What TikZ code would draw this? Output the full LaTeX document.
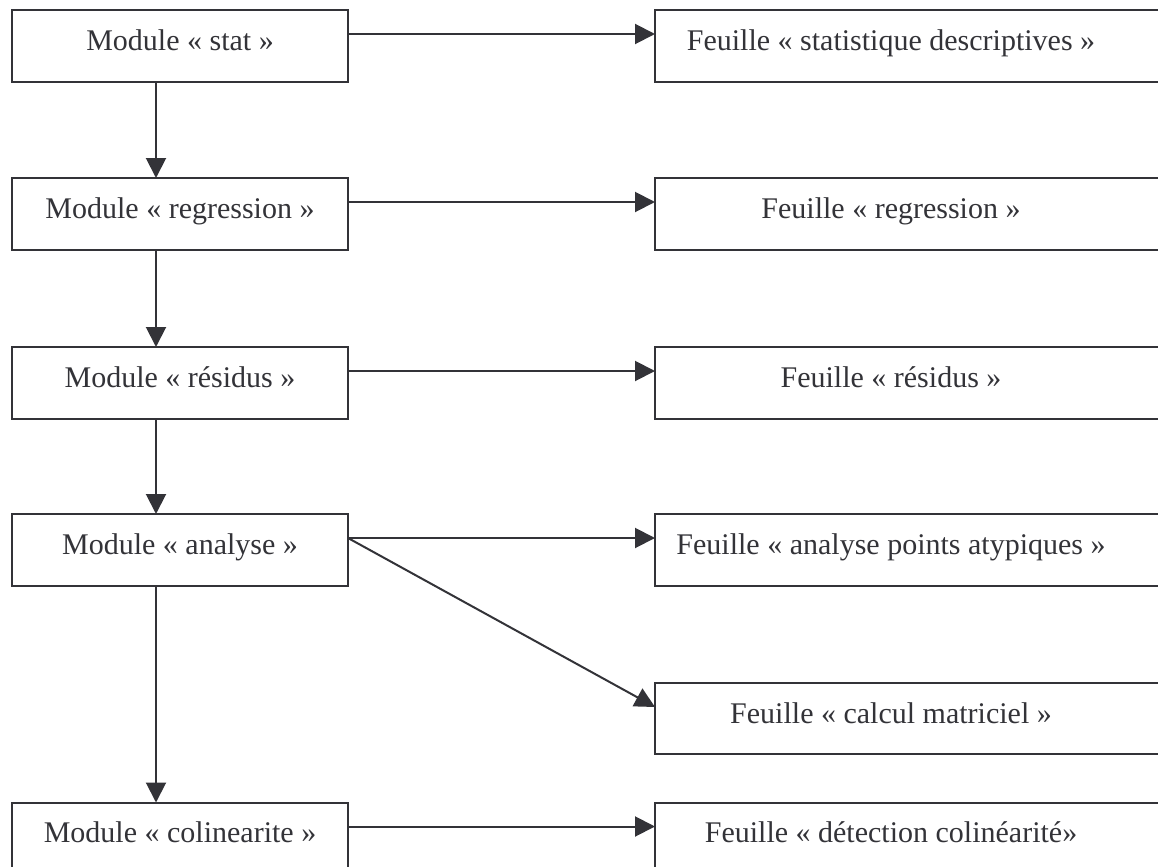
\documentclass[tikz,border=0pt]{standalone}
\usepackage{fontspec}
\setmainfont{Liberation Serif}
\usetikzlibrary{arrows.meta}
\definecolor{ink}{HTML}{333338}
\begin{document}
\begin{tikzpicture}[x=0.5pt,y=-0.5pt,
  box/.style={draw=ink,line width=1pt,inner sep=0pt,outer sep=0pt,minimum height=36pt},
  lbox/.style={box,minimum width=168pt},
  rbox/.style={box,minimum width=267.5pt},
  txt/.style={anchor=base,text=ink,inner sep=0pt,font=\fontsize{15pt}{18pt}\selectfont},
  conn/.style={draw=ink,line width=1pt,-{Triangle[length=10pt,width=10pt]}}]
\useasboundingbox (0,0) rectangle (1158,867);
\clip (0,0) rectangle (1158,867);
% left boxes
\node[lbox] (m1) at (180,46) {};
\node[lbox] (m2) at (180,214) {};
\node[lbox] (m3) at (180,383) {};
\node[lbox] (m4) at (180,550) {};
\node[lbox] (m5) at (180,838.5) {};
% right boxes
\node[rbox] (f1) at (922.5,46) {};
\node[rbox] (f2) at (922.5,214) {};
\node[rbox] (f3) at (922.5,383) {};
\node[rbox] (f4) at (922.5,550) {};
\node[rbox,minimum height=35.5pt] (f5) at (922.5,718.5) {};
\node[rbox] (f6) at (922.5,838.5) {};
% texts
\node[txt] (t1) at ([yshift=-20pt]m1.north) {Module « stat »};
\node[txt] (t2) at ([yshift=-20pt]m2.north) {Module « regression »};
\node[txt] (t3) at ([yshift=-20pt]m3.north) {Module « résidus »};
\node[txt] (t4) at ([yshift=-20pt]m4.north) {Module « analyse »};
\node[txt] (t5) at ([yshift=-20pt]m5.north) {Module « colinearite »};
\node[txt] (u1) at ([xshift=-15.75pt,yshift=-20pt]f1.north) {Feuille « statistique descriptives »};
\node[txt] (u2) at ([xshift=-15.75pt,yshift=-20pt]f2.north) {Feuille « regression »};
\node[txt] (u3) at ([xshift=-15.75pt,yshift=-20pt]f3.north) {Feuille « résidus »};
\node[txt] (u4) at ([xshift=-15.75pt,yshift=-20pt]f4.north) {Feuille « analyse points atypiques »};
\node[txt] (u5) at ([xshift=-15.75pt,yshift=-20pt]f5.north) {Feuille « calcul matriciel »};
\node[txt] (u6) at ([xshift=-15.75pt,yshift=-20pt]f6.north) {Feuille « détection colinéarité»};
% horizontal connectors
\foreach \a/\b in {m1/f1,m2/f2,m3/f3,m4/f4,m5/f6}
  \draw[conn] ([yshift=-12pt]\a.north east) -- ([yshift=-12pt]\b.north west);
\draw[conn] ([yshift=-12pt]m4.north east) -- ([yshift=-12pt]f5.north west);
% vertical connectors
\foreach \a/\b in {m1/m2,m2/m3,m3/m4,m4/m5}
  \draw[conn] ([xshift=72pt]\a.south west) -- ([xshift=72pt]\b.north west);
\end{tikzpicture}
\end{document}
